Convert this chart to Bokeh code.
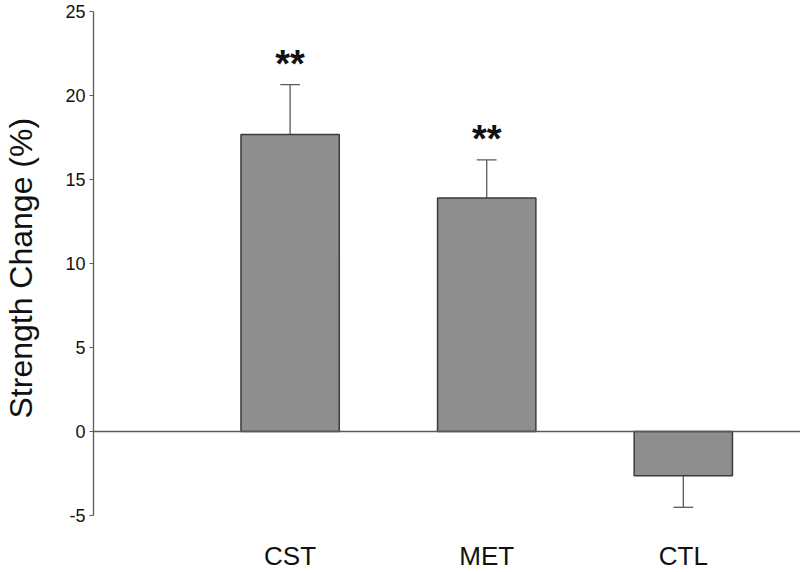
from bokeh.plotting import figure
from bokeh.models import (FixedTicker, Range1d, ColumnDataSource, Title,
                          LinearAxis)
from bokeh.core.properties import value
from bokeh.embed import file_html
from bokeh.resources import INLINE

# ---- data ----
categories = ["CST", "MET", "CTL"]
change = [17.67, 13.9, -2.64]       # mean strength change (%)
sem = [2.97, 2.26, 1.88]            # one-sided error bar length
significance = ["**", "**", ""]
y_ticks = [-5, 0, 5, 10, 15, 20, 25]
y_title = "Strength Change (%)"

FONT = "Liberation Sans"
BAR_FILL = "#8e8e8e"
BAR_LINE = "#3c3c3c"
AXIS_COL = "#5a5a5a"
TEXT_COL = "#111111"

xs = [i + 1 for i in range(len(categories))]
err_end = [v + (e if v >= 0 else -e) for v, e in zip(change, sem)]
cap_half = 0.05

src = ColumnDataSource(dict(
    x=xs, top=change, end=err_end,
    cx0=[x - cap_half for x in xs], cx1=[x + cap_half for x in xs],
    sig=significance,
))

p = figure(width=800, height=572, output_backend="svg", toolbar_location=None,
           x_range=Range1d(0, 3.596), y_range=Range1d(-8.4, 25.65),
           min_border_left=92, min_border_right=0, min_border_top=0,
           min_border_bottom=0)
p.outline_line_color = None
p.xgrid.visible = False
p.ygrid.visible = False
p.background_fill_color = "white"

# error bars (drawn first so bars cover their base)
p.segment(x0="x", y0="top", x1="x", y1="end", source=src,
          line_color=AXIS_COL, line_width=1.3)
p.segment(x0="cx0", y0="end", x1="cx1", y1="end", source=src,
          line_color=AXIS_COL, line_width=1.3)

p.vbar(x="x", top="top", bottom=0, width=0.5, source=src,
       fill_color=BAR_FILL, line_color=BAR_LINE, line_width=1.5)

p.text(x="x", y="end", text="sig", source=src,
       text_font=value(FONT), text_font_style="bold", text_font_size="38px",
       text_align="center", text_baseline="alphabetic", text_color=TEXT_COL,
       y_offset=-21)

# y axis
ya = p.yaxis[0]
ya.ticker = FixedTicker(ticks=y_ticks)
ya.bounds = (y_ticks[0], y_ticks[-1])
ya.major_label_overrides = {t: str(t) for t in y_ticks}
ya.axis_line_color = AXIS_COL
ya.axis_line_width = 1.3
ya.major_tick_line_color = AXIS_COL
ya.major_tick_out = 4
ya.major_tick_in = 0
ya.minor_tick_line_color = None
ya.major_label_standoff = 4
ya.major_label_text_font = FONT
ya.major_label_text_font_size = "18px"
ya.major_label_text_color = TEXT_COL

# invisible spacer between tick labels and the y title
spacer = LinearAxis(ticker=FixedTicker(ticks=[0]), axis_line_color=None,
                    major_tick_line_color=None, minor_tick_line_color=None,
                    major_tick_out=24, major_tick_in=0, minor_tick_out=0,
                    major_label_standoff=0, major_label_overrides={0: ""},
                    major_label_text_font_size="1px")
p.add_layout(spacer, "left")

# y title as a left-side title, placed like the reference
p.add_layout(Title(text=y_title, align="left", offset=154, standoff=0,
                   text_font=FONT, text_font_size="32px",
                   text_font_style="normal", text_color=TEXT_COL), "left")

# x axis drawn as the zero line
xa = p.xaxis[0]
xa.fixed_location = 0
xa.ticker = FixedTicker(ticks=xs)
xa.major_label_overrides = {x: c for x, c in zip(xs, categories)}
xa.axis_line_color = AXIS_COL
xa.axis_line_width = 1.3
xa.major_tick_line_color = None
xa.minor_tick_line_color = None
xa.major_label_standoff = 104
xa.major_label_text_font = FONT
xa.major_label_text_font_size = "26px"
xa.major_label_text_color = TEXT_COL

open("out.html", "w").write(file_html(p, INLINE))
